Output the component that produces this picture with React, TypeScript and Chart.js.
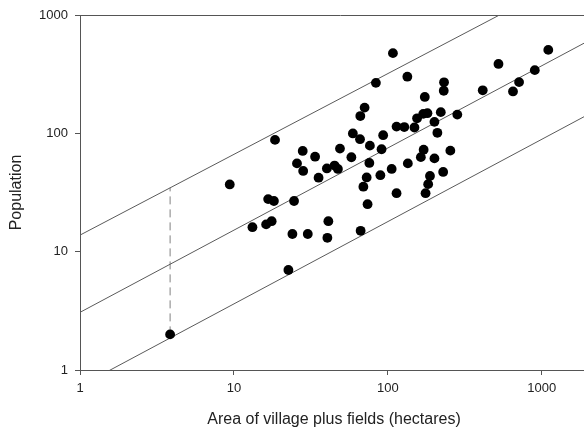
import React, { useEffect, useRef } from "react";
import { Chart, registerables } from "chart.js";

Chart.register(...registerables);

// Village area (hectares) and population
const areaHa = [
  3.85, 9.4, 13.2, 16.2, 17.6, 22.6, 16.7, 18.2, 24.6, 18.5,
  24.0, 30.2, 25.7, 28.2, 28.0, 33.7, 35.5, 40.2, 45.1, 47.4,
  48.9, 41.1, 40.5, 58.0, 59.3, 66.0, 76.5, 75.9, 72.9, 69.4,
  66.6, 73.9, 89.5, 91.1, 93.3, 106, 114, 114, 108, 83.7,
  70.7, 66.3, 134, 174, 128, 149, 155, 170, 181, 201,
  221, 283, 210, 232, 231, 414, 524, 1104, 902, 713,
  651, 171, 164, 201, 255, 135, 229, 188, 183, 176,
];
const population = [
  2.0, 37, 16.1, 17.0, 18.1, 7.0, 27.8, 26.8, 26.8, 88,
  14.1, 14.1, 55.7, 48.1, 71, 63.5, 42.2, 50.5, 53.4, 50.0,
  74.3, 18.1, 13.1, 62.8, 99.8, 89.2, 78.7, 56.2, 42.4, 35.4,
  15.0, 25.2, 44.3, 73.4, 96.4, 50.0, 31.2, 114, 476, 267,
  165, 140, 301, 203, 113, 112, 134, 146, 148, 125,
  151, 144, 101, 270, 229, 231, 386, 507, 342, 271,
  226, 72.7, 62.9, 61.4, 71.4, 55.7, 47.2, 43.6, 37.2, 31.2,
];

// Fitted line and interval endpoints (area, population)
const upperLineX = [1, 532];
const upperLineY = [13.8, 1000];
const fitLineX = [1, 1901];
const fitLineY = [3.07, 581];
const lowerLineX = [1, 1901];
const lowerLineY = [0.73, 139];
const intervalX = [3.85, 3.85];
const intervalY = [2.0, 34.7];

const tickValues = [1, 10, 100, 1000];
const xTitle = "Area of village plus fields (hectares)";
const yTitle = "Population";

const zip = (xs: number[], ys: number[]) => xs.map((x, i) => ({ x, y: ys[i] }));

const FONT = "'Liberation Sans', Arial, Helvetica, sans-serif";
const AXIS = "#555555";
const TEXT = "#222222";

const topBorder = {
  id: "topBorder",
  beforeDatasetsDraw(chart: any) {
    const { ctx, chartArea } = chart;
    ctx.save();
    ctx.strokeStyle = AXIS;
    ctx.lineWidth = 1;
    ctx.beginPath();
    const y = Math.round(chartArea.top) + 0.5;
    ctx.moveTo(chartArea.left, y);
    ctx.lineTo(chartArea.right + 20, y);
    ctx.stroke();
    ctx.restore();
  },
};

export default function App() {
  const ref = useRef<HTMLCanvasElement | null>(null);

  useEffect(() => {
    if (!ref.current) return;
    const lineStyle = {
      type: "line" as const,
      showLine: true,
      pointRadius: 0,
      borderColor: "#5a5a5a",
      borderWidth: 1,
      fill: false,
    };
    const chart = new Chart(ref.current, {
      type: "scatter",
      data: {
        datasets: [
          {
            label: "villages",
            data: zip(areaHa, population),
            backgroundColor: "#000000",
            borderColor: "#000000",
            pointRadius: 4.9,
            pointBorderWidth: 0,
          },
          { ...lineStyle, label: "upper", data: zip(upperLineX, upperLineY) },
          { ...lineStyle, label: "fit", data: zip(fitLineX, fitLineY) },
          { ...lineStyle, label: "lower", data: zip(lowerLineX, lowerLineY) },
          {
            ...lineStyle,
            label: "interval",
            data: zip(intervalX, intervalY),
            borderColor: "#808080",
            borderDash: [8, 5],
          },
        ] as any,
      },
      options: {
        animation: false,
        responsive: false,
        maintainAspectRatio: false,
        layout: { padding: { top: 15, left: 0, right: 12, bottom: 0 } },
        plugins: { legend: { display: false }, tooltip: { enabled: false } },
        scales: {
          x: {
            type: "logarithmic",
            min: 1,
            max: 2000,
            afterFit: (s: any) => {
              s.height = 60;
            },
            afterBuildTicks: (s: any) => {
              s.ticks = tickValues.map((v) => ({ value: v }));
            },
            ticks: {
              callback: (v: any) => String(v),
              font: { family: FONT, size: 13 },
              color: TEXT,
              padding: 6,
              maxRotation: 0,
              autoSkip: false,
            },
            grid: { display: true, drawOnChartArea: false, drawTicks: true, tickLength: 5, color: AXIS },
            border: { display: true, color: AXIS, width: 1 },
            title: {
              display: true,
              text: xTitle,
              font: { family: FONT, size: 16 },
              color: TEXT,
              padding: { top: 0, bottom: 1 },
            },
          },
          y: {
            type: "logarithmic",
            min: 1,
            max: 1000,
            afterFit: (s: any) => {
              s.width = 80;
            },
            afterBuildTicks: (s: any) => {
              s.ticks = tickValues.map((v) => ({ value: v }));
            },
            ticks: {
              callback: (v: any) => String(v),
              font: { family: FONT, size: 13 },
              color: TEXT,
              padding: 7,
              autoSkip: false,
            },
            grid: { display: true, drawOnChartArea: false, drawTicks: true, tickLength: 5, color: AXIS },
            border: { display: true, color: AXIS, width: 1 },
            title: {
              display: true,
              text: yTitle,
              font: { family: FONT, size: 16 },
              color: TEXT,
              padding: { top: 7, bottom: 0 },
            },
          },
        },
      } as any,
      plugins: [topBorder],
    });
    return () => chart.destroy();
  }, []);

  return (
    <div style={{ position: "fixed", left: 0, top: 0, width: 600, height: 430, background: "#fff" }}>
      <canvas ref={ref} width={600} height={430} style={{ display: "block" }} />
    </div>
  );
}
